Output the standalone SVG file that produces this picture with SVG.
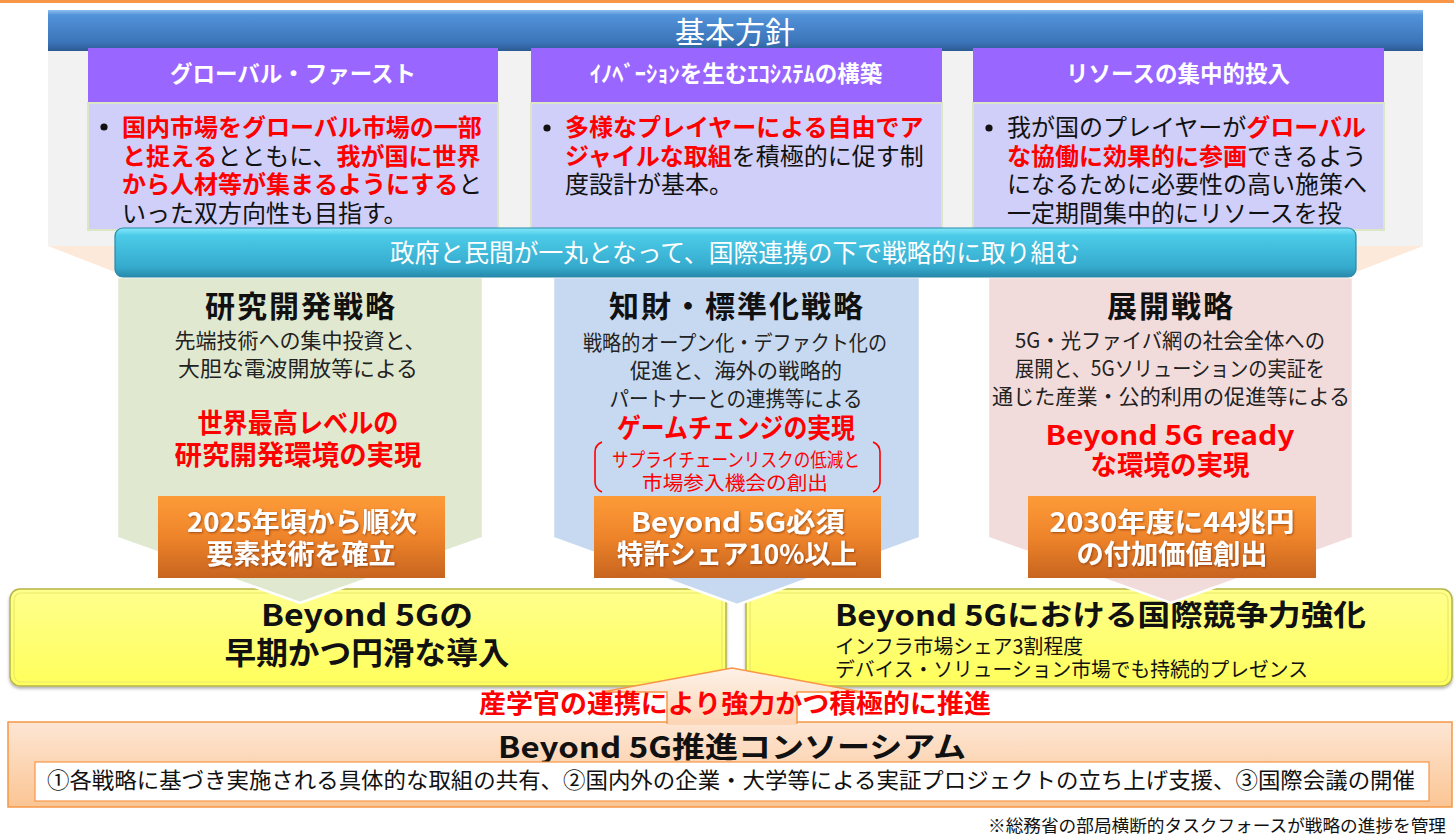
<svg xmlns="http://www.w3.org/2000/svg" width="1454" height="836" viewBox="0 0 1454 836">
<defs>
<style>
text{font-family:"Noto Sans CJK JP","Noto Sans",sans-serif;}
.b{font-weight:700;}
.w{fill:#ffffff;}
.r{fill:#ff0000;}
.k{fill:#111111;}
.m{text-anchor:middle;}
.body{font-size:24px;fill:#111111;}
.ph{font-size:22.5px;font-weight:700;fill:#ffffff;text-anchor:middle;}
.ttl{font-size:30px;font-weight:700;fill:#111111;text-anchor:middle;letter-spacing:2px;}
.sub{font-size:21px;fill:#222222;text-anchor:middle;}
.red{font-size:27px;font-weight:700;fill:#ff0000;text-anchor:middle;}
.ob{font-size:27px;font-weight:700;fill:#ffffff;text-anchor:middle;}
.purple{fill:#9966ff;}
.lav{fill:#cfcff9;stroke:#dbe6c6;stroke-width:2;}
.chev{stroke:#ffffff;stroke-width:2.5;}
.obox{fill:url(#gOrange);}
.ybox{fill:url(#gYellow);stroke:#b5b548;stroke-width:1.5;}
.yin{fill:none;stroke:#e9e96a;stroke-width:1.2;}
</style>
<linearGradient id="gBlue" x1="0" y1="0" x2="0" y2="1">
<stop offset="0" stop-color="#8fc0ee"/>
<stop offset="0.12" stop-color="#5293d9"/>
<stop offset="0.8" stop-color="#3b73b8"/>
<stop offset="1" stop-color="#2b5a92"/>
</linearGradient>
<linearGradient id="gCyan" x1="0" y1="0" x2="0" y2="1">
<stop offset="0" stop-color="#84e8fa"/>
<stop offset="0.15" stop-color="#4ccbe8"/>
<stop offset="0.8" stop-color="#35aacd"/>
<stop offset="1" stop-color="#2789ab"/>
</linearGradient>
<linearGradient id="gOrange" x1="0" y1="0" x2="0" y2="1">
<stop offset="0" stop-color="#fd9b38"/>
<stop offset="0.5" stop-color="#ee842a"/>
<stop offset="1" stop-color="#c7641f"/>
</linearGradient>
<linearGradient id="gYellow" x1="0" y1="0" x2="0" y2="1">
<stop offset="0" stop-color="#ffff8c"/>
<stop offset="1" stop-color="#ffff5c"/>
</linearGradient>
<linearGradient id="gPeach" x1="0" y1="0" x2="0" y2="1">
<stop offset="0" stop-color="#fde6d4"/>
<stop offset="1" stop-color="#fbc594"/>
</linearGradient>
<linearGradient id="gArrow" x1="0" y1="0" x2="0" y2="1">
<stop offset="0" stop-color="#fdf1e7"/>
<stop offset="1" stop-color="#fcd7b8"/>
</linearGradient>
<filter id="ts" x="-10%" y="-30%" width="120%" height="160%">
<feDropShadow dx="1" dy="1" stdDeviation="0.8" flood-color="#7a2e00" flood-opacity="0.7"/>
</filter>
<filter id="sh" x="-5%" y="-10%" width="110%" height="130%">
<feDropShadow dx="0" dy="2" stdDeviation="1.5" flood-color="#000000" flood-opacity="0.3"/>
</filter>
</defs>

<rect x="0" y="0" width="1454" height="836" fill="#ffffff"/>
<rect x="0" y="0" width="1454" height="3" fill="#f79646"/>

<g id="basic-policy">
<rect x="48" y="50" width="1375" height="196" fill="#f2f2f2"/>
<polygon points="48,246 1423,246 1356,272 115,272" fill="#fde9d9"/>
<rect x="48" y="10" width="1375" height="41" fill="url(#gBlue)"/>
<text x="735" y="43" class="m w" font-size="30">基本方針</text>
</g>

<g id="policy-global-first">
<rect x="88" y="48" width="410" height="55" class="purple"/>
<rect x="88" y="103" width="410" height="127" class="lav"/>
<text x="293" y="81.5" class="ph">グローバル・ファースト</text>
<circle cx="104" cy="127" r="3.6" fill="#111"/>
<text class="body" x="122" y="136"><tspan class="r b">国内市場をグローバル市場の一部</tspan></text>
<text class="body" x="122" y="164.5"><tspan class="r b">と捉える</tspan>とともに、<tspan class="r b">我が国に世界</tspan></text>
<text class="body" x="122" y="193"><tspan class="r b">から人材等が集まるようにする</tspan>と</text>
<text class="body" x="122" y="221.5">いった双方向性も目指す。</text>
</g>

<g id="policy-ecosystem">
<rect x="531" y="48" width="411" height="55" class="purple"/>
<rect x="531" y="103" width="411" height="127" class="lav"/>
<text x="736" y="81.5" class="ph">ｲﾉﾍﾞｰｼｮﾝを生むｴｺｼｽﾃﾑの構築</text>
<circle cx="547" cy="128" r="3.6" fill="#111"/>
<text class="body" x="565" y="136"><tspan class="r b">多様なプレイヤーによる自由でア</tspan></text>
<text class="body" x="565" y="164.5"><tspan class="r b">ジャイルな取組</tspan>を積極的に促す制</text>
<text class="body" x="565" y="193">度設計が基本。</text>
</g>

<g id="policy-resources">
<rect x="973" y="48" width="411" height="55" class="purple"/>
<rect x="973" y="103" width="411" height="127" class="lav"/>
<text x="1178" y="81.5" class="ph">リソースの集中的投入</text>
<circle cx="989" cy="128" r="3.6" fill="#111"/>
<text class="body" x="1007" y="136">我が国のプレイヤーが<tspan class="r b">グローバル</tspan></text>
<text class="body" x="1007" y="164.5"><tspan class="r b">な協働に効果的に参画</tspan>できるよう</text>
<text class="body" x="1007" y="193">になるために必要性の高い施策へ</text>
<text class="body" x="1007" y="221.5">一定期間集中的にリソースを投</text>
</g>

<g id="goal-early-introduction">
<rect x="10" y="589" width="716" height="97" rx="10" class="ybox" filter="url(#sh)"/>
<rect x="14" y="593" width="708" height="89" rx="7" class="yin"/>
<text x="367" y="626" class="m b k" font-size="30" textLength="212" lengthAdjust="spacingAndGlyphs">Beyond 5Gの</text>
<text x="367" y="664" class="m b k" font-size="31" textLength="285" lengthAdjust="spacingAndGlyphs">早期かつ円滑な導入</text>
</g>

<g id="goal-competitiveness">
<rect x="746" y="589" width="706" height="97" rx="10" class="ybox" filter="url(#sh)"/>
<rect x="750" y="593" width="698" height="89" rx="7" class="yin"/>
<text x="835" y="626" class="b k" font-size="29" textLength="531" lengthAdjust="spacingAndGlyphs">Beyond 5Gにおける国際競争力強化</text>
<text x="835" y="654" class="k" font-size="20" textLength="248" lengthAdjust="spacingAndGlyphs">インフラ市場シェア3割程度</text>
<text x="835" y="677" class="k" font-size="20" textLength="473" lengthAdjust="spacingAndGlyphs">デバイス・ソリューション市場でも持続的プレゼンス</text>
</g>

<g id="strategy-rd">
<polygon points="117,277 483,277 483,538 300,603 117,538" fill="#e0e9d0" class="chev"/>
<text x="301" y="317" class="ttl">研究開発戦略</text>
<text x="300" y="348" class="sub">先端技術への集中投資と、</text>
<text x="298" y="376" class="sub" textLength="240" lengthAdjust="spacingAndGlyphs">大胆な電波開放等による</text>
<text x="298" y="433" class="red" textLength="201" lengthAdjust="spacingAndGlyphs">世界最高レベルの</text>
<text x="298" y="465" class="red" textLength="247" lengthAdjust="spacingAndGlyphs">研究開発環境の実現</text>
<rect x="158" y="496" width="287" height="82" class="obox"/>
<text x="302" y="532" class="ob" filter="url(#ts)" textLength="230" lengthAdjust="spacingAndGlyphs">2025年頃から順次</text>
<text x="301" y="564" class="ob" filter="url(#ts)" textLength="189" lengthAdjust="spacingAndGlyphs">要素技術を確立</text>
</g>

<g id="strategy-ip-standard">
<polygon points="553,277 920,277 920,538 737,605 553,538" fill="#c6d9f0" class="chev"/>
<text x="737" y="317" class="ttl">知財・標準化戦略</text>
<text x="735" y="350" class="sub" textLength="304" lengthAdjust="spacingAndGlyphs">戦略的オープン化・デファクト化の</text>
<text x="736" y="378" class="sub" textLength="212" lengthAdjust="spacingAndGlyphs">促進と、海外の戦略的</text>
<text x="736" y="406" class="sub" textLength="253" lengthAdjust="spacingAndGlyphs">パートナーとの連携等による</text>
<text x="736" y="438" class="red" font-size="26" textLength="238" lengthAdjust="spacingAndGlyphs">ゲームチェンジの実現</text>
<path d="M602,442 Q595,445 595,452 L595,482 Q595,489 602,492" fill="none" stroke="#ff0000" stroke-width="1.6"/>
<path d="M873,442 Q880,445 880,452 L880,482 Q880,489 873,492" fill="none" stroke="#ff0000" stroke-width="1.6"/>
<text x="736" y="467" class="r m" font-size="19" textLength="248" lengthAdjust="spacingAndGlyphs">サプライチェーンリスクの低減と</text>
<text x="735" y="490" class="r m" font-size="19" textLength="186" lengthAdjust="spacingAndGlyphs">市場参入機会の創出</text>
<rect x="594" y="496" width="287" height="82" class="obox"/>
<text x="738" y="532" class="ob" filter="url(#ts)" textLength="214" lengthAdjust="spacingAndGlyphs">Beyond 5G必須</text>
<text x="737" y="564" class="ob" filter="url(#ts)" textLength="240" lengthAdjust="spacingAndGlyphs">特許シェア10%以上</text>
</g>

<g id="strategy-deployment">
<polygon points="988,277 1353,277 1353,538 1171,603 988,538" fill="#f2dcdb" class="chev"/>
<text x="1171" y="317" class="ttl">展開戦略</text>
<text x="1170" y="348" class="sub" textLength="310" lengthAdjust="spacingAndGlyphs">5G・光ファイバ網の社会全体への</text>
<text x="1170" y="376" class="sub" textLength="310" lengthAdjust="spacingAndGlyphs">展開と、5Gソリューションの実証を</text>
<text x="1171" y="404" class="sub" textLength="358" lengthAdjust="spacingAndGlyphs">通じた産業・公的利用の促進等による</text>
<text x="1170" y="445" class="red" textLength="249" lengthAdjust="spacingAndGlyphs">Beyond 5G ready</text>
<text x="1170" y="475" class="red" textLength="159" lengthAdjust="spacingAndGlyphs">な環境の実現</text>
<rect x="1028" y="496" width="288" height="82" class="obox"/>
<text x="1172" y="532" class="ob" filter="url(#ts)" textLength="245" lengthAdjust="spacingAndGlyphs">2030年度に44兆円</text>
<text x="1172" y="564" class="ob" filter="url(#ts)" textLength="191" lengthAdjust="spacingAndGlyphs">の付加価値創出</text>
</g>

<g id="government-private-band">
<rect x="115" y="228" width="1241" height="49" rx="8" fill="url(#gCyan)" stroke="#2a88a8" stroke-width="1.2"/>
<text x="735" y="262" class="m w" font-size="24.6" textLength="690" lengthAdjust="spacingAndGlyphs">政府と民間が一丸となって、国際連携の下で戦略的に取り組む</text>
</g>

<g id="consortium">
<rect x="8" y="722" width="1444" height="85" fill="url(#gPeach)" stroke="#f79646" stroke-width="1.5"/>
<text x="732" y="758" class="m b k" font-size="29" textLength="468" lengthAdjust="spacingAndGlyphs">Beyond 5G推進コンソーシアム</text>
<rect x="35" y="762" width="1394" height="39" fill="#ffffff" stroke="#f79646" stroke-width="1.2"/>
<text x="47" y="788" class="k" font-size="22" textLength="1368" lengthAdjust="spacingAndGlyphs">①各戦略に基づき実施される具体的な取組の共有、②国内外の企業・大学等による実証プロジェクトの立ち上げ支援、③国際会議の開催</text>
</g>

<g id="connectors">
<polygon points="732,668 862,692 797,692 797,723 667,723 667,692 602,692" fill="url(#gArrow)" stroke="#f79646" stroke-width="1.5" stroke-linejoin="miter"/>
<rect x="668" y="719" width="128" height="6" fill="#fcd6b6"/>
<text x="735" y="713" class="m r b" font-size="26" textLength="512" lengthAdjust="spacingAndGlyphs">産学官の連携により強力かつ積極的に推進</text>
</g>

<g id="footnote">
<text x="988" y="832" class="k" font-size="17.5" textLength="458" lengthAdjust="spacingAndGlyphs">※総務省の部局横断的タスクフォースが戦略の進捗を管理</text>
</g>
</svg>
